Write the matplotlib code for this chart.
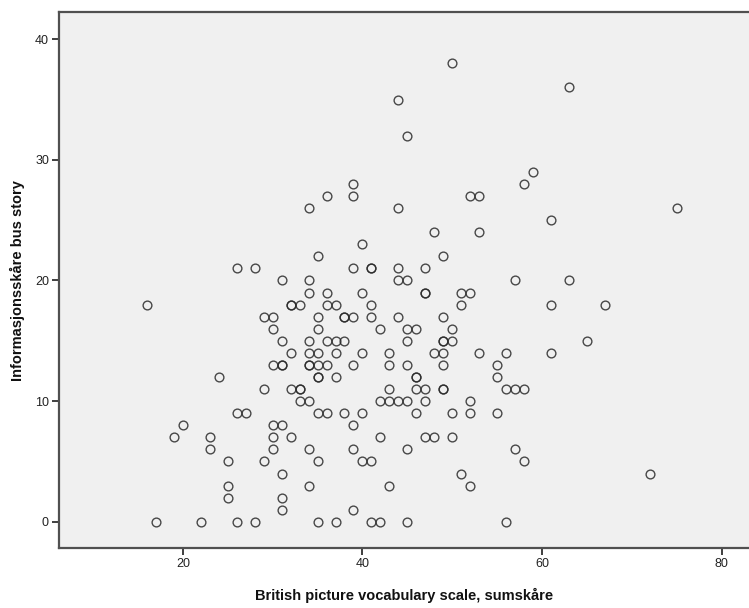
import matplotlib
matplotlib.use("Agg")
import matplotlib.pyplot as plt

# Data: scores grouped by y value (Informasjonsskåre bus story) -> list of x values (BPVS sumskåre)
rows = {
    38: [50],
    36: [63],
    35: [44],
    32: [45],
    29: [59],
    28: [39, 58],
    27: [36, 39, 52, 53],
    26: [34, 44, 75],
    25: [61],
    24: [48, 53],
    23: [40],
    22: [35, 49],
    21: [26, 28, 39, 41, 41, 44, 47],
    20: [31, 34, 44, 45, 57, 63],
    19: [34, 36, 40, 47, 47, 51, 52],
    18: [16, 32, 32, 33, 36, 37, 41, 51, 61, 67],
    17: [29, 30, 35, 38, 38, 39, 41, 44, 49],
    16: [30, 35, 42, 45, 46, 50],
    15: [31, 34, 36, 37, 38, 45, 49, 49, 50, 65],
    14: [32, 34, 35, 37, 40, 43, 48, 49, 53, 56, 61],
    13: [30, 31, 31, 34, 34, 35, 36, 39, 43, 45, 49, 55],
    12: [24, 35, 35, 37, 46, 46, 55],
    11: [29, 32, 33, 33, 43, 46, 47, 49, 49, 56, 57, 58],
    10: [33, 34, 42, 43, 44, 45, 47, 52],
    9: [26, 27, 35, 36, 38, 40, 46, 50, 52, 55],
    8: [20, 30, 31, 39],
    7: [19, 23, 30, 32, 42, 47, 48, 50],
    6: [23, 30, 34, 39, 45, 57],
    5: [25, 29, 35, 40, 41, 58],
    4: [31, 51, 72],
    3: [25, 34, 43, 52],
    2: [25, 31],
    1: [31, 39],
    0: [17, 22, 26, 28, 35, 37, 41, 42, 45, 56],
}
bpvs = [x for y, xs in rows.items() for x in xs]
bus_story = [y for y, xs in rows.items() for x in xs]

x_ticks = [20, 40, 60, 80]
y_ticks = [0, 10, 20, 30, 40]
x_label = "British picture vocabulary scale, sumskåre"
y_label = "Informasjonsskåre bus story"

plt.rcParams['font.family'] = ['Liberation Sans', 'DejaVu Sans']

fig = plt.figure(figsize=(7.49, 6.08), dpi=100)
ax = fig.add_axes([0.0784, 0.0982, 0.9216, 0.8821])
ax.set_facecolor('#F0F0F0')

ax.plot(bpvs, bus_story, linestyle='none', marker='o', markersize=6.3,
        markerfacecolor='none', markeredgecolor='#2a2a2a', markeredgewidth=1.0,
        alpha=0.85)

ax.set_xlim(6.18, 83.04)
ax.set_ylim(-2.2, 42.26)
ax.set_xticks(x_ticks)
ax.set_yticks(y_ticks)

spine_color = '#505050'
for side in ['left', 'bottom', 'top']:
    ax.spines[side].set_color(spine_color)
    ax.spines[side].set_linewidth(1.6)
ax.spines['right'].set_visible(False)

ax.tick_params(axis='both', direction='out', length=5, width=1.3,
               color='#303030', labelsize=9, labelcolor='#222222', pad=2)

ax.set_xlabel(x_label, fontsize=10.5, fontweight='bold', color='#111111', labelpad=13)
ax.set_ylabel(y_label, fontsize=10.5, fontweight='bold', color='#111111', labelpad=7)

fig.savefig('out.png', dpi=100, facecolor='white')
